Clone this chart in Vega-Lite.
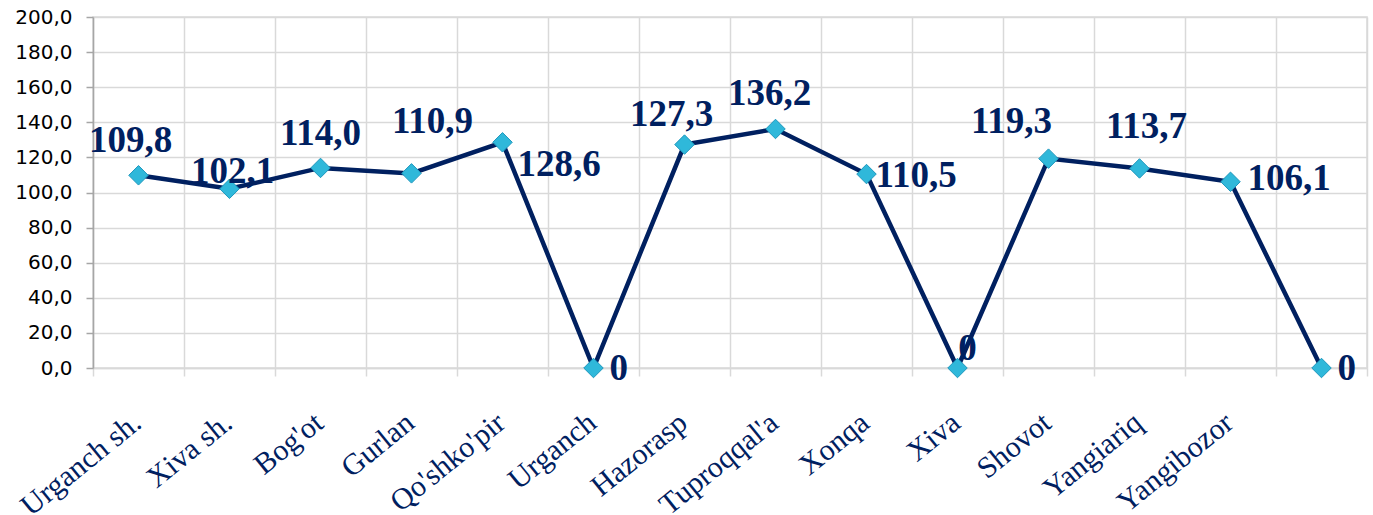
{
  "$schema": "https://vega.github.io/schema/vega-lite/v6.json",
  "autosize": {"type": "none"},
  "width": 1274,
  "height": 351,
  "padding": {"left": 93, "top": 17, "right": 6, "bottom": 147},
  "background": "white",
  "config": {
    "locale": {"number": {"decimal": ",", "thousands": " ", "grouping": [3], "currency": ["", ""]}},
    "view": {"stroke": "#D9D9D9", "strokeWidth": 1.5}
  },
  "data": {"values": [
    {"name": "Urganch sh.", "value": 109.8},
    {"name": "Xiva sh.", "value": 102.1},
    {"name": "Bog'ot", "value": 114.0},
    {"name": "Gurlan", "value": 110.9},
    {"name": "Qo'shko'pir", "value": 128.6},
    {"name": "Urganch", "value": 0},
    {"name": "Hazorasp", "value": 127.3},
    {"name": "Tuproqqal'a", "value": 136.2},
    {"name": "Xonqa", "value": 110.5},
    {"name": "Xiva", "value": 0},
    {"name": "Shovot", "value": 119.3},
    {"name": "Yangiariq", "value": 113.7},
    {"name": "Yangibozor", "value": 106.1},
    {"name": " ", "value": 0}
  ]},
  "encoding": {
    "x": {"field": "name", "type": "nominal", "sort": null,
      "scale": {"paddingInner": 0, "paddingOuter": 0},
      "axis": {"title": null, "tickBand": "extent", "grid": true, "gridColor": "#D9D9D9", "gridWidth": 1.5,
        "domainColor": "#D9D9D9", "domainWidth": 1.5, "tickColor": "#D9D9D9", "tickWidth": 1.5, "tickSize": 8,
        "labelAngle": -39, "labelFont": "Liberation Serif", "labelFontSize": 30, "labelColor": "#002060",
        "labelPadding": 31, "labelOverlap": false, "labelAlign": "right", "labelBaseline": "top", "labelOffset": -11}},
    "y": {"field": "value", "type": "quantitative",
      "scale": {"domain": [0, 200], "nice": false},
      "axis": {"title": null, "values": [0, 20, 40, 60, 80, 100, 120, 140, 160, 180, 200], "format": ".1f",
        "grid": true, "gridColor": "#D9D9D9", "gridWidth": 1.5,
        "domainColor": "#A6A6A6", "domainWidth": 1.5, "tickColor": "#A6A6A6", "tickWidth": 1.5, "tickSize": 7,
        "labelFont": "DejaVu Sans", "labelFontSize": 20, "labelColor": "#000000", "labelPadding": 14}}
  },
  "layer": [
    {"mark": {"type": "line", "color": "#002060", "strokeWidth": 4.5}},
    {"mark": {"type": "point", "shape": "diamond", "size": 380, "filled": true, "fill": "#2FB8DA", "stroke": "#1E97BD", "strokeWidth": 1, "opacity": 1}},
    {"transform": [{"filter": "datum.name === 'Urganch sh.'"}], "mark": {"type": "text", "font": "Liberation Serif", "fontWeight": "bold", "fontSize": 37, "color": "#002060", "align": "center", "baseline": "middle", "dx": -8, "dy": -34}, "encoding": {"text": {"field": "value", "type": "quantitative", "format": ".1f"}}},
    {"transform": [{"filter": "datum.name === 'Xiva sh.'"}], "mark": {"type": "text", "font": "Liberation Serif", "fontWeight": "bold", "fontSize": 37, "color": "#002060", "align": "center", "baseline": "middle", "dx": 3, "dy": -17}, "encoding": {"text": {"field": "value", "type": "quantitative", "format": ".1f"}}},
    {"transform": [{"filter": "datum.name === \"Bog'ot\""}], "mark": {"type": "text", "font": "Liberation Serif", "fontWeight": "bold", "fontSize": 37, "color": "#002060", "align": "center", "baseline": "middle", "dx": 0, "dy": -34}, "encoding": {"text": {"field": "value", "type": "quantitative", "format": ".1f"}}},
    {"transform": [{"filter": "datum.name === 'Gurlan'"}], "mark": {"type": "text", "font": "Liberation Serif", "fontWeight": "bold", "fontSize": 37, "color": "#002060", "align": "center", "baseline": "middle", "dx": 21, "dy": -51}, "encoding": {"text": {"field": "value", "type": "quantitative", "format": ".1f"}}},
    {"transform": [{"filter": "datum.name === \"Qo'shko'pir\""}], "mark": {"type": "text", "font": "Liberation Serif", "fontWeight": "bold", "fontSize": 37, "color": "#002060", "align": "left", "baseline": "middle", "dx": 15, "dy": 23}, "encoding": {"text": {"field": "value", "type": "quantitative", "format": ".1f"}}},
    {"transform": [{"filter": "datum.name === 'Urganch'"}], "mark": {"type": "text", "font": "Liberation Serif", "fontWeight": "bold", "fontSize": 37, "color": "#002060", "align": "left", "baseline": "middle", "dx": 16, "dy": 1}, "encoding": {"text": {"field": "value", "type": "quantitative", "format": ".0f"}}},
    {"transform": [{"filter": "datum.name === 'Hazorasp'"}], "mark": {"type": "text", "font": "Liberation Serif", "fontWeight": "bold", "fontSize": 37, "color": "#002060", "align": "center", "baseline": "middle", "dx": -13, "dy": -30}, "encoding": {"text": {"field": "value", "type": "quantitative", "format": ".1f"}}},
    {"transform": [{"filter": "datum.name === \"Tuproqqal'a\""}], "mark": {"type": "text", "font": "Liberation Serif", "fontWeight": "bold", "fontSize": 37, "color": "#002060", "align": "center", "baseline": "middle", "dx": -6, "dy": -35}, "encoding": {"text": {"field": "value", "type": "quantitative", "format": ".1f"}}},
    {"transform": [{"filter": "datum.name === 'Xonqa'"}], "mark": {"type": "text", "font": "Liberation Serif", "fontWeight": "bold", "fontSize": 37, "color": "#002060", "align": "left", "baseline": "middle", "dx": 9, "dy": 2}, "encoding": {"text": {"field": "value", "type": "quantitative", "format": ".1f"}}},
    {"transform": [{"filter": "datum.name === 'Xiva'"}], "mark": {"type": "text", "font": "Liberation Serif", "fontWeight": "bold", "fontSize": 37, "color": "#002060", "align": "center", "baseline": "middle", "dx": 10, "dy": -19}, "encoding": {"text": {"field": "value", "type": "quantitative", "format": ".0f"}}},
    {"transform": [{"filter": "datum.name === 'Shovot'"}], "mark": {"type": "text", "font": "Liberation Serif", "fontWeight": "bold", "fontSize": 37, "color": "#002060", "align": "center", "baseline": "middle", "dx": -37, "dy": -37}, "encoding": {"text": {"field": "value", "type": "quantitative", "format": ".1f"}}},
    {"transform": [{"filter": "datum.name === 'Yangiariq'"}], "mark": {"type": "text", "font": "Liberation Serif", "fontWeight": "bold", "fontSize": 37, "color": "#002060", "align": "center", "baseline": "middle", "dx": 7, "dy": -41}, "encoding": {"text": {"field": "value", "type": "quantitative", "format": ".1f"}}},
    {"transform": [{"filter": "datum.name === 'Yangibozor'"}], "mark": {"type": "text", "font": "Liberation Serif", "fontWeight": "bold", "fontSize": 37, "color": "#002060", "align": "left", "baseline": "middle", "dx": 17, "dy": -3}, "encoding": {"text": {"field": "value", "type": "quantitative", "format": ".1f"}}},
    {"transform": [{"filter": "datum.name === ' '"}], "mark": {"type": "text", "font": "Liberation Serif", "fontWeight": "bold", "fontSize": 37, "color": "#002060", "align": "left", "baseline": "middle", "dx": 16, "dy": 1}, "encoding": {"text": {"field": "value", "type": "quantitative", "format": ".0f"}}}
  ]
}
